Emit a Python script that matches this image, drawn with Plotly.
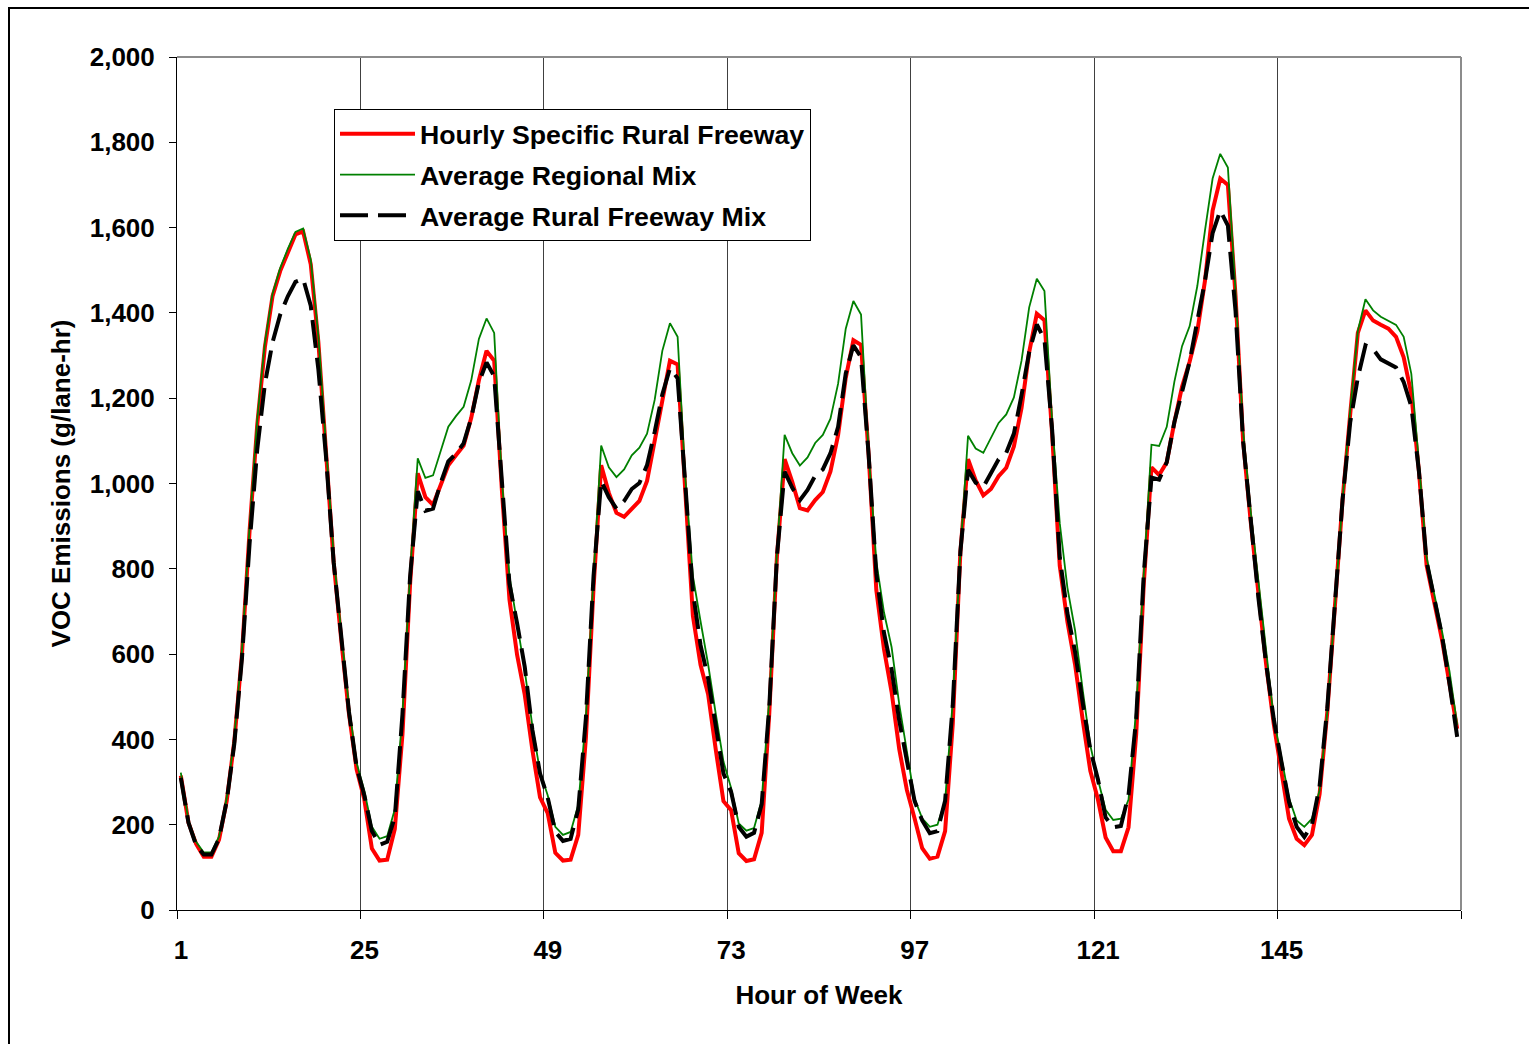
import plotly.graph_objects as go

# Hour of the week (1..168), one value per hour
hours = list(range(1, 169))

# VOC emissions, g/lane-hr
hourly_specific_rural_freeway = [
    # day 1
    315, 205, 155, 125, 125, 165, 255, 396, 600, 890, 1138, 1320,
    1439, 1498, 1541, 1584, 1591, 1514, 1331, 1062, 815, 632, 460, 330,
    # day 2
    260, 144, 116, 118, 190, 412, 765, 1024, 968, 950, 996, 1043,
    1066, 1089, 1154, 1242, 1311, 1288, 987, 728, 598, 505, 375, 264,
    # day 3
    227, 134, 116, 118, 176, 403, 755, 1043, 978, 931, 922, 941,
    959, 1006, 1098, 1200, 1288, 1279, 990, 690, 575, 505, 375, 255,
    # day 4
    234, 133, 115, 119, 181, 463, 830, 1057, 1004, 942, 937, 961,
    980, 1028, 1114, 1248, 1336, 1325, 1066, 750, 612, 511, 377, 281,
    # day 5
    215, 145, 120, 125, 185, 436, 840, 1057, 1007, 972, 987, 1017,
    1037, 1087, 1177, 1308, 1398, 1383, 1117, 807, 676, 576, 446, 326,
    # day 6
    259, 170, 138, 138, 194, 412, 766, 1038, 1020, 1050, 1144, 1227,
    1286, 1357, 1475, 1640, 1715, 1700, 1440, 1097, 908, 743, 577, 436,
    # day 7
    329, 214, 167, 152, 176, 272, 463, 722, 961, 1162, 1353, 1406,
    1382, 1372, 1363, 1344, 1296, 1210, 1028, 808, 722, 635, 530, 425,
]

average_regional_mix = [
    322, 210, 160, 135, 135, 172, 262, 405, 610, 900, 1150, 1330,
    1445, 1505, 1550, 1590, 1598, 1525, 1345, 1080, 830, 648, 478, 345,
    280, 195, 167, 173, 236, 459, 790, 1059, 1013, 1019, 1075, 1133,
    1158, 1180, 1242, 1339, 1387, 1353, 1010, 783, 672, 561, 431, 324,
    269, 195, 176, 183, 246, 450, 783, 1089, 1038, 1015, 1033, 1066,
    1084, 1117, 1196, 1311, 1376, 1344, 1015, 783, 677, 575, 459, 348,
    286, 203, 186, 192, 257, 497, 840, 1114, 1071, 1042, 1061, 1095,
    1114, 1152, 1234, 1363, 1428, 1396, 1070, 817, 698, 616, 482, 367,
    261, 215, 195, 200, 256, 490, 840, 1112, 1082, 1072, 1107, 1142,
    1162, 1202, 1288, 1413, 1480, 1451, 1147, 907, 756, 656, 516, 386,
    306, 235, 211, 214, 259, 471, 790, 1091, 1088, 1133, 1239, 1322,
    1369, 1463, 1593, 1715, 1773, 1741, 1451, 1121, 932, 766, 601, 448,
    358, 262, 210, 195, 214, 281, 463, 722, 961, 1171, 1358, 1432,
    1406, 1391, 1382, 1372, 1344, 1257, 1047, 827, 741, 655, 559, 434,
]

average_rural_freeway_mix = [
    310, 205, 152, 130, 130, 168, 255, 390, 590, 860, 1080, 1234,
    1331, 1396, 1439, 1473, 1480, 1417, 1267, 1062, 815, 632, 465, 335,
    270, 185, 153, 160, 218, 459, 783, 982, 936, 941, 1001, 1052,
    1070, 1094, 1154, 1237, 1284, 1251, 1000, 765, 672, 570, 422, 320,
    264, 183, 162, 167, 236, 450, 783, 1006, 968, 941, 959, 987,
    1001, 1043, 1121, 1209, 1270, 1247, 1000, 746, 621, 542, 431, 320,
    277, 195, 172, 181, 248, 478, 830, 1028, 990, 961, 985, 1018,
    1033, 1071, 1133, 1258, 1324, 1296, 1066, 789, 650, 564, 444, 348,
    256, 210, 180, 185, 256, 480, 840, 1032, 1002, 992, 1027, 1057,
    1072, 1117, 1207, 1308, 1373, 1338, 1127, 827, 696, 606, 486, 376,
    306, 217, 194, 197, 270, 448, 790, 1014, 1009, 1050, 1144, 1215,
    1286, 1381, 1475, 1587, 1640, 1605, 1404, 1097, 908, 731, 577, 448,
    348, 253, 195, 171, 200, 291, 473, 712, 961, 1143, 1248, 1324,
    1315, 1291, 1281, 1272, 1238, 1181, 1028, 817, 731, 645, 530, 406,
]

# Day boundaries (category edges) and the hour label shown for each day
day_edges = [0.5 + 24 * i for i in range(8)]
day_labels = ["1", "25", "49", "73", "97", "121", "145", ""]
y_ticks = list(range(0, 2001, 200))

FONT = "Liberation Sans, Arial, sans-serif"

fig = go.Figure()
fig.add_trace(go.Scatter(
    x=hours, y=hourly_specific_rural_freeway, mode="lines",
    name="Hourly Specific Rural Freeway", legendgroup="a",
    line=dict(color="#FF0000", width=4),
))
fig.add_trace(go.Scatter(
    x=hours, y=average_regional_mix, mode="lines",
    name="Average Regional Mix", legendgroup="b",
    line=dict(color="#008000", width=1.8),
))
fig.add_trace(go.Scatter(
    x=hours, y=average_rural_freeway_mix, mode="lines",
    name="Average Rural Freeway Mix", legendgroup="c",
    line=dict(color="#000000", width=4, dash="28px,10px"),
))

# plot-area geometry in pixels
W, H = 1529, 1044
L, R, T, B = 177, 1461, 57, 910


def px_x(px):
    return (px - L) / (R - L)


def px_y(py):
    return (B - py) / (B - T)


fig.update_layout(
    width=W, height=H,
    margin=dict(l=L, r=W - R, t=T, b=H - B),
    paper_bgcolor="white", plot_bgcolor="white",
    font=dict(family=FONT, size=26, color="black", weight="bold"),
    showlegend=True,
    legend=dict(
        x=px_x(334), y=px_y(109), xanchor="left", yanchor="top",
        bgcolor="white", bordercolor="black", borderwidth=1,
        font=dict(family=FONT, size=26.7, color="black", weight="bold"),
        tracegroupgap=3, itemwidth=75,
    ),
    xaxis=dict(
        range=[0.5, 168.5], tickmode="array",
        tickvals=day_edges, ticktext=day_labels,
        ticks="outside", ticklen=8, tickwidth=1, tickcolor="black",
        ticklabelshift=4, ticklabelstandoff=9,
        showline=True, linecolor="black", linewidth=1,
        showgrid=True, gridcolor="#404040", gridwidth=1,
        zeroline=False,
        title=dict(text="Hour of Week", standoff=21,
                   font=dict(family=FONT, size=26, weight="bold")),
    ),
    yaxis=dict(
        range=[0, 2000], tickmode="array", tickvals=y_ticks,
        tickformat=",d",
        ticks="outside", ticklen=7, tickwidth=1, tickcolor="black",
        ticklabelstandoff=9,
        showline=True, linecolor="black", linewidth=1,
        showgrid=False, zeroline=False,
        title=dict(text="VOC Emissions (g/lane-hr)", standoff=11,
                   font=dict(family=FONT, size=26, weight="bold")),
    ),
    shapes=[
        # grey plot-area frame on the top and right sides
        dict(type="line", xref="paper", yref="paper", x0=0, x1=1, y0=1, y1=1,
             line=dict(color="#8c8c8c", width=2)),
        dict(type="line", xref="paper", yref="paper", x0=1, x1=1, y0=0, y1=1,
             line=dict(color="#8c8c8c", width=2)),
        # chart-area border
        dict(type="rect", xref="paper", yref="paper",
             x0=px_x(9), x1=px_x(1600), y0=px_y(1100), y1=px_y(8),
             line=dict(color="black", width=2), fillcolor="rgba(0,0,0,0)"),
    ],
)

fig.write_html("out.html")
